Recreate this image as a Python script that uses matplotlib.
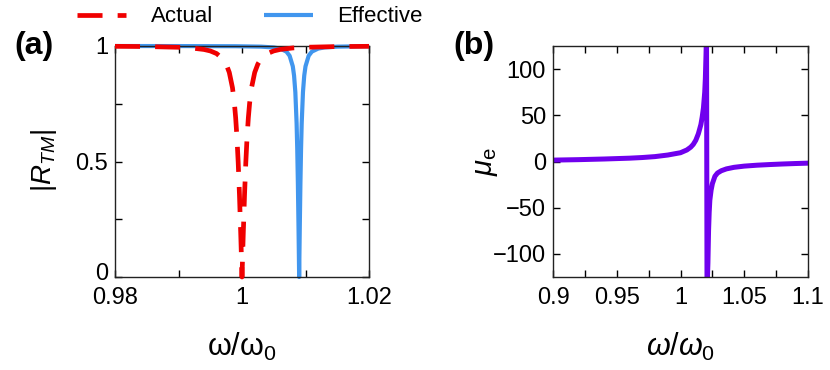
import matplotlib
matplotlib.use("Agg")
import matplotlib.pyplot as plt
import matplotlib.transforms as mtransforms

plt.rcParams['font.family'] = ['Liberation Sans', 'DejaVu Sans']
plt.rcParams['mathtext.fontset'] = 'custom'
plt.rcParams['mathtext.rm'] = 'Liberation Sans'
plt.rcParams['mathtext.it'] = 'Liberation Sans:italic'
plt.rcParams['mathtext.bf'] = 'Liberation Sans:bold'

# ---- data: panel (a) ----
w_actual = [0.98, 0.985, 0.99, 0.992, 0.994, 0.995, 0.996, 0.997, 0.9975, 0.998,
            0.9985, 0.9988, 0.999, 0.9992, 0.9994, 0.9996, 0.9998, 0.9999, 1.0,
            1.0001, 1.0002, 1.0004, 1.0006, 1.0008, 1.001, 1.0012, 1.0015, 1.002,
            1.0025, 1.003, 1.004, 1.005, 1.006, 1.008, 1.01, 1.015, 1.02]
R_actual = [0.9986, 0.9976, 0.9945, 0.9915, 0.9850, 0.9787, 0.9672, 0.9438, 0.9220, 0.8854,
            0.8193, 0.7526, 0.6897, 0.6061, 0.4961, 0.3561, 0.1871, 0.0948, 0.0,
            0.0948, 0.1871, 0.3561, 0.4961, 0.6061, 0.6897, 0.7526, 0.8193, 0.8854,
            0.9220, 0.9438, 0.9672, 0.9787, 0.9850, 0.9915, 0.9945, 0.9976, 0.9986]

w_effective = [0.98, 0.99, 0.999, 1.003, 1.005, 1.006, 1.007, 1.0075, 1.008, 1.0082,
               1.0084, 1.0086, 1.0087, 1.0088, 1.0089, 1.00895, 1.009, 1.00905, 1.0091,
               1.0092, 1.0093, 1.0094, 1.0096, 1.0098, 1.01, 1.0105, 1.011, 1.012,
               1.013, 1.015, 1.019, 1.02]
R_effective = [0.9999, 0.9997, 0.9990, 0.9972, 0.9937, 0.9889, 0.9756, 0.9578, 0.9119, 0.8716,
               0.8000, 0.6644, 0.5547, 0.4061, 0.2169, 0.1104, 0.0, 0.1104, 0.2169,
               0.4061, 0.5547, 0.6644, 0.8000, 0.8716, 0.9119, 0.9578, 0.9756, 0.9889,
               0.9937, 0.9972, 0.9990, 0.9992]

a_xticks = [0.98, 0.99, 1.0, 1.01, 1.02]
a_xticklabels = ['0.98', '', '1', '', '1.02']
a_yticks = [0, 0.25, 0.5, 0.75, 1]
a_yticklabels = ['0', '', '0.5', '', '1']

# ---- data: panel (b) ----
w_mu = [0.9, 0.92, 0.94, 0.96, 0.97, 0.98, 0.99, 1.0, 1.005, 1.008, 1.01, 1.012,
        1.014, 1.016, 1.017, 1.018, 1.019, 1.0195, 1.02, 1.0204, 1.0208, 1.0215,
        1.022, 1.0225, 1.023, 1.024, 1.025, 1.027, 1.029, 1.032, 1.036, 1.042,
        1.05, 1.06, 1.07, 1.08, 1.09, 1.1]
mu_e = [1.5, 2.0, 2.7, 3.6, 4.3, 5.3, 7.0, 9.5, 12.5, 15.5, 18.5, 23,
        30, 40, 48, 58, 75, 90, 115, 140, -140, -110,
        -75, -55, -42, -31, -24, -16, -12.5, -10, -8, -6.3,
        -5.0, -4.0, -3.3, -2.7, -2.2, -1.8]

b_xticks = [0.9, 0.925, 0.95, 0.975, 1.0, 1.025, 1.05, 1.075, 1.1]
b_xticklabels = ['0.9', '', '0.95', '', '1', '', '1.05', '', '1.1']
b_yticks = [-100, -50, 0, 50, 100]
b_yticklabels = ['\u2212100', '\u221250', '0', '50', '100']

# ---- figure ----
fig = plt.figure(figsize=(8.3, 3.7), dpi=100)
axA = fig.add_axes([115/830, 1-277/370, 254/830, 231/370])
axB = fig.add_axes([553/830, 1-277/370, 255/830, 231/370])

red = '#f00000'
blue = '#4196ee'
purple = '#7000ee'

lb, = axA.plot(w_effective, R_effective, color=blue, lw=3.0, clip_on=False, zorder=2,
               solid_capstyle='butt', label='Effective')
lr, = axA.plot(w_actual, R_actual, color=red, lw=3.4, clip_on=False, zorder=3,
               label='Actual')
lr.set_dashes((5.3, 3.2))
axA.set_xlim(0.98, 1.02)
axA.set_ylim(0, 1)
axA.set_xticks(a_xticks)
axA.set_xticklabels(a_xticklabels)
axA.set_yticks(a_yticks)
axA.set_yticklabels(a_yticklabels)
axA.set_xlabel(r'$\mathregular{\omega/\omega_0}$', fontsize=22)
axA.set_ylabel(r'$|R_{TM}|$', fontsize=20)
axA.xaxis.set_label_coords(0.5, (277-331)/231)
axA.yaxis.set_label_coords((59-115)/254, 0.502)

axB.plot(w_mu, mu_e, color=purple, lw=3.6)
axB.set_xlim(0.9, 1.1)
axB.set_ylim(-125, 125)
axB.set_xticks(b_xticks)
axB.set_xticklabels(b_xticklabels)
axB.set_yticks(b_yticks)
axB.set_yticklabels(b_yticklabels)
axB.set_xlabel(r'$\omega/\omega_{\mathit{0}}$', fontsize=22)
axB.set_ylabel(r'$\mu_{\mathrm{e}}$', fontsize=21)
axB.xaxis.set_label_coords(0.502, (277-331)/231)
axB.yaxis.set_label_coords((500-553)/255, 0.5)

for ax in (axA, axB):
    ax.tick_params(direction='in', length=5, width=1, top=True, right=True,
                   labelsize=17, pad=5, colors='black')
    ax.tick_params(axis='x', pad=7)
    for s in ax.spines.values():
        s.set_linewidth(1.0)
        s.set_color('#222222')

# nudge the "0" label of panel (a) slightly up so it does not touch "0.98"
lab0 = axA.get_yticklabels()[0]
lab0.set_transform(lab0.get_transform() +
                   mtransforms.ScaledTranslation(0, 5/100, fig.dpi_scale_trans))

fig.text(34/830, 1-46/370, '(a)', fontsize=23, fontweight='bold', ha='center', va='center')
fig.text(474/830, 1-46/370, '(b)', fontsize=23, fontweight='bold', ha='center', va='center')

fig.legend(handles=[lr, lb], labels=['Actual', 'Effective'], loc='center',
           bbox_to_anchor=(250/830, 1-17/370), ncol=2, frameon=False, fontsize=16,
           handlelength=2.2, handletextpad=1.1, columnspacing=2.3, borderpad=0)

fig.savefig('out.png', dpi=100)
